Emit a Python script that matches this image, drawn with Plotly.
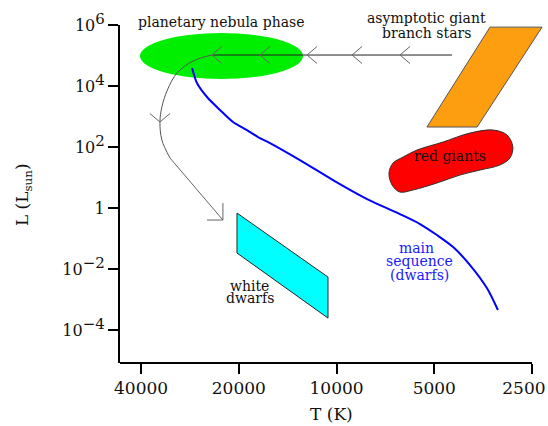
import numpy as np
import plotly.graph_objects as go

# ---------------- data ----------------
# axis ticks
t_ticks = [40000, 20000, 10000, 5000, 2500]
t_ticktext = ["40000", "20000", "10000", "5000", "2500\u00a0\u00a0\u00a0"]
l_ticks = [1e6, 1e4, 1e2, 1, 1e-2, 1e-4]
l_exponents = ["6", "4", "2", None, "−2", "−4"]

# main sequence (log10 T [K], log10 L [Lsun])
ms_logT = [4.445, 4.430, 4.399, 4.359, 4.319, 4.276, 4.242, 4.205, 4.113, 4.011,
           3.906, 3.805, 3.743, 3.691, 3.641, 3.589, 3.537, 3.503]
ms_logL = [4.590, 4.098, 3.639, 3.213, 2.820, 2.557, 2.328, 2.131, 1.574, 0.918,
           0.295, -0.197, -0.525, -0.885, -1.279, -1.869, -2.623, -3.344]

# asymptotic giant branch region (parallelogram)
agb_logT = [3.5275, 3.367, 3.567, 3.7215]
agb_logL = [5.93, 5.93, 2.656, 2.656]

# white dwarf region (parallelogram)
wd_logT = [4.3067, 4.3067, 4.0264, 4.0264]
wd_logL = [-0.164, -1.475, -3.607, -2.262]

# red giant region (outline)
rg_logT = [3.8385, 3.826, 3.795, 3.752, 3.672, 3.589, 3.518, 3.475, 3.457,
           3.466, 3.497, 3.558, 3.620, 3.691, 3.765, 3.805, 3.829]
rg_logL = [1.148, 1.475, 1.672, 1.902, 2.164, 2.459, 2.557, 2.393, 2.0,
           1.639, 1.410, 1.246, 1.082, 0.820, 0.590, 0.525, 0.754]

# planetary nebula region (ellipse): centre and half-extent in log units
pn_logT_c, pn_logT_half = 4.3544, 0.251
pn_logL_c, pn_logL_half = 4.984, 0.754

# evolutionary track: horizontal part, curved part, straight descent
trk_h_logT = [3.6445, 4.384]
trk_h_logL = [5.016, 5.016]
trk_c_logT = [4.384, 4.440, 4.4915, 4.521, 4.538, 4.544, 4.538, 4.513]
trk_c_logL = [5.016, 4.830, 4.426, 3.869, 3.311, 2.820, 2.230, 1.639]
trk_s_logT = [4.513, 4.350]
trk_s_logL = [1.639, -0.393]
chev_h_logT = [4.384, 4.236, 4.091, 3.9525, 3.8047]   # left-pointing chevrons
chev_v_logT, chev_v_logL = 4.544, 2.820               # down-pointing chevron

# ---------------- styling constants ----------------
FONT = "DejaVu Serif"
arm_dT, arm_dL = 0.031, 0.28          # chevron arm size (log units)
head_dT, head_dL = 0.049, 0.557       # final arrow head size (log units)

def p10(a):
    return [10 ** v for v in a]

fig = go.Figure()

# AGB
fig.add_trace(go.Scatter(x=p10(agb_logT + agb_logT[:1]), y=p10(agb_logL + agb_logL[:1]),
                         mode="lines", fill="toself", fillcolor="#fd9d10",
                         line=dict(color="#555555", width=1), hoverinfo="skip"))
# red giants
fig.add_trace(go.Scatter(x=p10(rg_logT + rg_logT[:1]), y=p10(rg_logL + rg_logL[:1]),
                         mode="lines", fill="toself", fillcolor="#ff0000",
                         line=dict(color="#333333", width=1, shape="spline"),
                         hoverinfo="skip"))
# white dwarfs
fig.add_trace(go.Scatter(x=p10(wd_logT + wd_logT[:1]), y=p10(wd_logL + wd_logL[:1]),
                         mode="lines", fill="toself", fillcolor="#00ffff",
                         line=dict(color="#222222", width=1), hoverinfo="skip"))
# main sequence
fig.add_trace(go.Scatter(x=p10(ms_logT), y=p10(ms_logL), mode="lines",
                         line=dict(color="#0000ff", width=2, shape="spline",
                                   smoothing=0.8),
                         hoverinfo="skip"))
# track
fig.add_trace(go.Scatter(x=p10(trk_h_logT), y=p10(trk_h_logL), mode="lines",
                         line=dict(color="#222222", width=1), hoverinfo="skip"))
fig.add_trace(go.Scatter(x=p10(trk_c_logT), y=p10(trk_c_logL), mode="lines",
                         line=dict(color="#555555", width=1, shape="spline"),
                         hoverinfo="skip"))
fig.add_trace(go.Scatter(x=p10(trk_s_logT), y=p10(trk_s_logL), mode="lines",
                         line=dict(color="#666666", width=1), hoverinfo="skip"))
# chevrons
cx, cy = [], []
for t in chev_h_logT:
    L = trk_h_logL[0]
    cx += [t - arm_dT, t, t - arm_dT, None]
    cy += [L + arm_dL, L, L - arm_dL, None]
cx += [chev_v_logT - arm_dT, chev_v_logT, chev_v_logT + arm_dT, None]
cy += [chev_v_logL + arm_dL, chev_v_logL, chev_v_logL + arm_dL, None]
et, el = trk_s_logT[-1], trk_s_logL[-1]
cx += [et, et, et + head_dT]
cy += [el + head_dL, el, el]
fig.add_trace(go.Scatter(x=[None if v is None else 10 ** v for v in cx],
                         y=[None if v is None else 10 ** v for v in cy],
                         mode="lines", connectgaps=False,
                         line=dict(color="#666666", width=1), hoverinfo="skip"))

shapes = [
    dict(type="circle", xref="x", yref="y", layer="below",
         x0=10 ** (pn_logT_c - pn_logT_half), x1=10 ** (pn_logT_c + pn_logT_half),
         y0=10 ** (pn_logL_c - pn_logL_half), y1=10 ** (pn_logL_c + pn_logL_half),
         fillcolor="#00ee00", line=dict(width=0)),
    dict(type="line", xref="paper", yref="paper", x0=0, x1=0.9694, y0=0, y1=0,
         line=dict(color="black", width=2)),
]

def ann(text, lt, ll, color="#111111", size=14, yref="y"):
    return dict(text=text, x=lt, y=ll, xref="x", yref=yref, showarrow=False,
                font=dict(family=FONT, size=size, color=color),
                xanchor="center", yanchor="middle")

annotations = [
    ann("planetary nebula phase", 4.356, 1.009, yref="paper"),
    ann("asymptotic giant", 3.7215, 1.021, yref="paper"),
    ann("branch stars", 3.7215, 5.738),
    ann("red giants", 3.651, 1.705),
    ann("white", 4.267, -2.557),
    ann("dwarfs", 4.267, -2.951),
    ann("main", 3.755, -1.311, color="#1a1aff"),
    ann("sequence", 3.746, -1.738, color="#1a1aff"),
    ann("(dwarfs)", 3.746, -2.197, color="#1a1aff"),
    dict(text="L (L<sub>sun</sub>)", x=-0.228, y=0.497, xref="paper", yref="paper",
         showarrow=False, textangle=-90, font=dict(family=FONT, size=17, color="#111111"),
         xanchor="center", yanchor="middle"),
    dict(text="T (K)", x=0.4965, y=-0.151, xref="paper", yref="paper",
         showarrow=False, font=dict(family=FONT, size=17, color="#111111"),
         xanchor="center", yanchor="middle"),
]

l_ticktext = ["1" if e is None else
              "10<sup><span style='font-size:15px'>%s</span></sup>" % e
              for e in l_exponents]

fig.update_layout(
    width=548, height=426,
    margin=dict(l=120, r=3, t=25, b=63, autoexpand=False),
    paper_bgcolor="white", plot_bgcolor="white",
    showlegend=False,
    shapes=shapes, annotations=annotations,
    xaxis=dict(type="log", range=[4.667, 3.358], showgrid=False, zeroline=False,
               showline=False, ticks="outside", ticklen=10, tickwidth=2,
               tickcolor="black", tickvals=t_ticks, ticktext=t_ticktext,
               ticklabeloverflow="allow", automargin=False,
               tickfont=dict(family=FONT, size=17, color="#111111")),
    yaxis=dict(type="log", range=[-5.08, 6.0], showgrid=False, zeroline=False,
               showline=True, linewidth=2, linecolor="black", ticks="outside",
               ticklen=10, tickwidth=1.5, tickcolor="black", tickvals=l_ticks,
               ticktext=l_ticktext, automargin=False,
               tickfont=dict(family=FONT, size=16, color="#111111")),
)

fig.write_html("out.html")
